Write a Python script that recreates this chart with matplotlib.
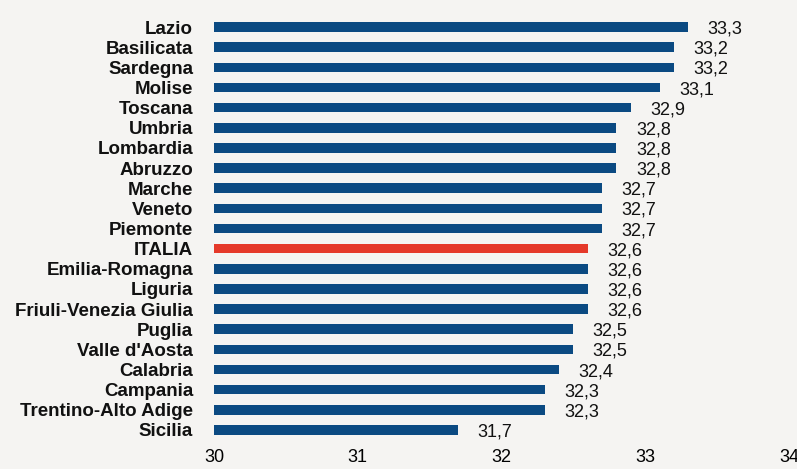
import matplotlib.pyplot as plt

regioni = ['Lazio', 'Basilicata', 'Sardegna', 'Molise', 'Toscana', 'Umbria',
           'Lombardia', 'Abruzzo', 'Marche', 'Veneto', 'Piemonte', 'ITALIA',
           'Emilia-Romagna', 'Liguria', 'Friuli-Venezia Giulia', 'Puglia',
           "Valle d'Aosta", 'Calabria', 'Campania', 'Trentino-Alto Adige', 'Sicilia']
valori = [33.3, 33.2, 33.2, 33.1, 32.9, 32.8, 32.8, 32.8, 32.7, 32.7, 32.7, 32.6,
          32.6, 32.6, 32.6, 32.5, 32.5, 32.4, 32.3, 32.3, 31.7]
xticks = [30, 31, 32, 33, 34]

bg = '#F5F4F2'
blu = '#0B4A82'
rosso = '#E5392A'

plt.rcParams['font.family'] = ['Liberation Sans', 'DejaVu Sans']

fig = plt.figure(figsize=(7.97, 4.69), dpi=100, facecolor=bg)
ax = fig.add_axes([214 / 797, 1 - 442 / 469, (789 - 214) / 797, 427 / 469])
ax.set_facecolor(bg)

ypos = list(range(len(regioni)))
colori = [rosso if r == 'ITALIA' else blu for r in regioni]
ax.barh(ypos, [v - 30 for v in valori], left=30, height=0.47, color=colori)

for y, v in zip(ypos, valori):
    ax.text(v + 0.135, y + 0.1, f'{v:.1f}'.replace('.', ','), va='center', ha='left',
            fontsize=13, color='#111111')

ax.set_xlim(30, 34)
ax.set_ylim(20.6, -0.6)
ax.set_xticks(xticks)
ax.set_xticklabels([str(t) for t in xticks], fontsize=13)
ax.set_yticks(ypos)
ax.set_yticklabels(regioni, fontsize=13.5, fontweight='bold', color='#111111')
ax.tick_params(length=0)
ax.tick_params(axis='y', pad=15)
ax.tick_params(axis='x', pad=5)
for s in ax.spines.values():
    s.set_visible(False)

fig.savefig('out.png', dpi=100, facecolor=bg)
